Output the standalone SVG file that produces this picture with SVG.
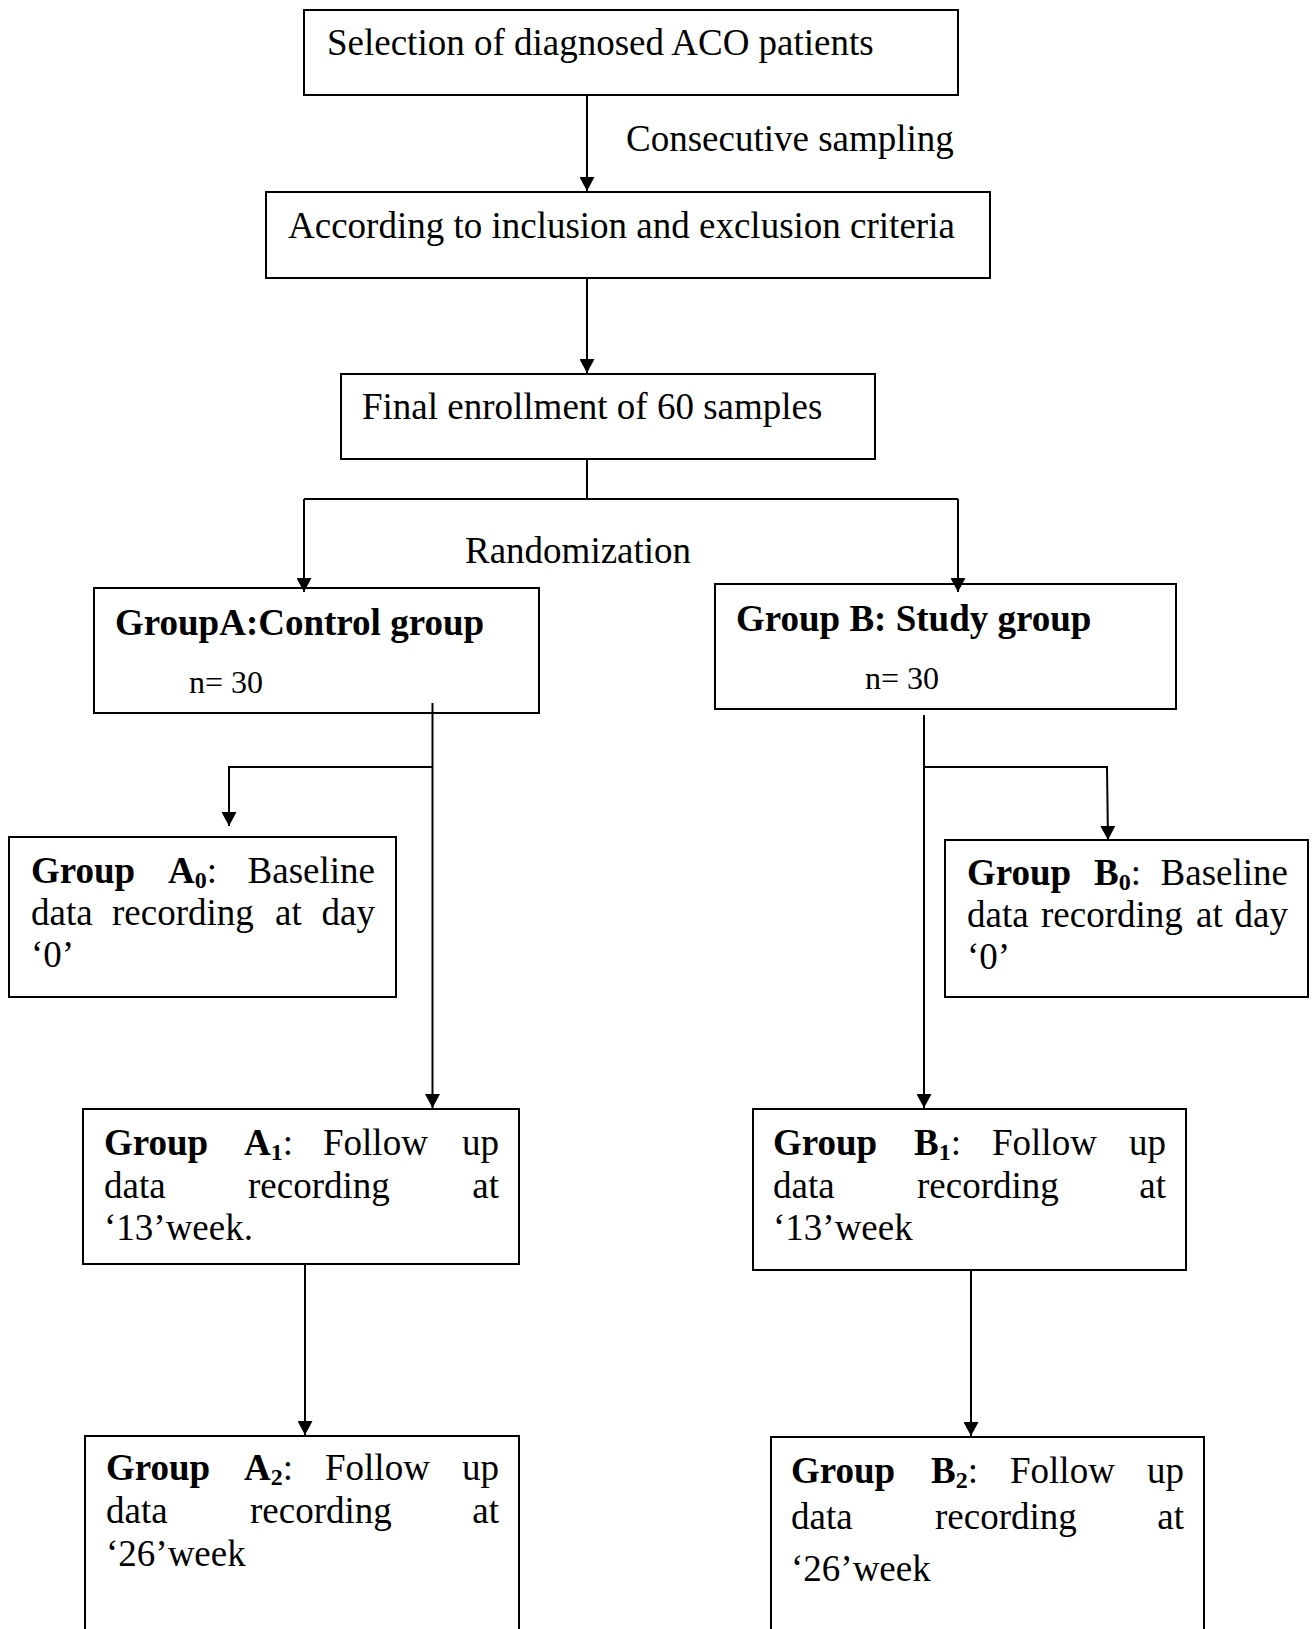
<svg xmlns="http://www.w3.org/2000/svg" width="1314" height="1629" viewBox="0 0 1314 1629">
<style>
  .box { fill: #fff; stroke: #000; stroke-width: 2; }
  .t { font-family: "Liberation Serif", "Times New Roman", serif; font-size: 37px; fill: #000; }
  .b { font-weight: bold; }
  .sub { font-size: 24px; font-weight: bold; }
  .n { font-size: 32px; }
  .con path { fill: none; stroke: #000; stroke-width: 2; }
</style>
<defs>
  <marker id="arr" markerUnits="userSpaceOnUse" markerWidth="15" markerHeight="15" refX="14" refY="7.5" orient="auto">
    <path d="M0,0 L14,7.5 L0,15 z" fill="#000"/>
  </marker>
</defs>
<rect width="1314" height="1629" fill="#fff"/>

<g id="n-select">
  <rect class="box" x="304" y="10" width="654" height="85"/>
  <text class="t" x="327" y="55">Selection of diagnosed ACO patients</text>
</g>
<g id="n-criteria">
  <rect class="box" x="266" y="192" width="724" height="86"/>
  <text class="t" x="288" y="238">According to inclusion and exclusion criteria</text>
</g>
<g id="n-final">
  <rect class="box" x="341" y="374" width="534" height="85"/>
  <text class="t" x="362" y="419">Final enrollment of 60 samples</text>
</g>
<g id="n-groupA">
  <rect class="box" x="94" y="588" width="445" height="125"/>
  <text class="t b" x="115" y="635">GroupA:Control group</text>
  <text class="t n" x="189" y="693">n= 30</text>
</g>
<g id="n-groupB">
  <rect class="box" x="715" y="584" width="461" height="125"/>
  <text class="t b" x="736" y="631">Group B: Study group</text>
  <text class="t n" x="865" y="689">n= 30</text>
</g>
<g id="n-A0">
  <rect class="box" x="9" y="837" width="387" height="160"/>
  <text class="t" y="883"><tspan x="31" class="b">Group</tspan><tspan x="168" class="b">A</tspan><tspan class="sub" dy="5">0</tspan><tspan dy="-5">:</tspan><tspan x="375" text-anchor="end">Baseline</tspan></text>
  <text class="t" y="925"><tspan x="31">data</tspan><tspan x="112">recording</tspan><tspan x="275">at</tspan><tspan x="375" text-anchor="end">day</tspan></text>
  <text class="t" x="31" y="967">‘0’</text>
</g>
<g id="n-B0">
  <rect class="box" x="945" y="840" width="363" height="157"/>
  <text class="t" y="885"><tspan x="967" class="b">Group</tspan><tspan x="1094" class="b">B</tspan><tspan class="sub" dy="5">0</tspan><tspan dy="-5">:</tspan><tspan x="1288" text-anchor="end">Baseline</tspan></text>
  <text class="t" y="927"><tspan x="967">data</tspan><tspan x="1041">recording</tspan><tspan x="1196">at</tspan><tspan x="1288" text-anchor="end">day</tspan></text>
  <text class="t" x="967" y="969">‘0’</text>
</g>
<g id="n-A1">
  <rect class="box" x="83" y="1109" width="436" height="155"/>
  <text class="t" y="1155"><tspan x="104" class="b">Group</tspan><tspan x="244" class="b">A</tspan><tspan class="sub" dy="5">1</tspan><tspan dy="-5">:</tspan><tspan x="323">Follow</tspan><tspan x="499" text-anchor="end">up</tspan></text>
  <text class="t" y="1198"><tspan x="104">data</tspan><tspan x="248">recording</tspan><tspan x="499" text-anchor="end">at</tspan></text>
  <text class="t" x="104" y="1240">‘13’week.</text>
</g>
<g id="n-B1">
  <rect class="box" x="753" y="1109" width="433" height="161"/>
  <text class="t" y="1155"><tspan x="773" class="b">Group</tspan><tspan x="914" class="b">B</tspan><tspan class="sub" dy="5">1</tspan><tspan dy="-5">:</tspan><tspan x="992">Follow</tspan><tspan x="1166" text-anchor="end">up</tspan></text>
  <text class="t" y="1198"><tspan x="773">data</tspan><tspan x="917">recording</tspan><tspan x="1166" text-anchor="end">at</tspan></text>
  <text class="t" x="773" y="1240">‘13’week</text>
</g>
<g id="n-A2">
  <rect class="box" x="85" y="1436" width="434" height="220"/>
  <text class="t" y="1480"><tspan x="106" class="b">Group</tspan><tspan x="244" class="b">A</tspan><tspan class="sub" dy="5">2</tspan><tspan dy="-5">:</tspan><tspan x="325">Follow</tspan><tspan x="499" text-anchor="end">up</tspan></text>
  <text class="t" y="1523"><tspan x="106">data</tspan><tspan x="250">recording</tspan><tspan x="499" text-anchor="end">at</tspan></text>
  <text class="t" x="106" y="1566">‘26’week</text>
</g>
<g id="n-B2">
  <rect class="box" x="771" y="1437" width="433" height="220"/>
  <text class="t" y="1483"><tspan x="791" class="b">Group</tspan><tspan x="931" class="b">B</tspan><tspan class="sub" dy="5">2</tspan><tspan dy="-5">:</tspan><tspan x="1010">Follow</tspan><tspan x="1184" text-anchor="end">up</tspan></text>
  <text class="t" y="1529"><tspan x="791">data</tspan><tspan x="935">recording</tspan><tspan x="1184" text-anchor="end">at</tspan></text>
  <text class="t" x="791" y="1581">‘26’week</text>
</g>

<g id="connectors" class="con">
  <path d="M587,95 V191" marker-end="url(#arr)"/>
  <path d="M587,278 V373" marker-end="url(#arr)"/>
  <path d="M587,459 V499 M304,499 H958"/>
  <path d="M304,499 V592" marker-end="url(#arr)"/>
  <path d="M958,499 V592" marker-end="url(#arr)"/>
  <path d="M432.5,703 V1108" marker-end="url(#arr)"/>
  <path d="M432.5,767 H229 V826" marker-end="url(#arr)"/>
  <path d="M924,715 V1108" marker-end="url(#arr)"/>
  <path d="M924,767 H1107 L1108,840" marker-end="url(#arr)"/>
  <path d="M305,1264 V1435" marker-end="url(#arr)"/>
  <path d="M971,1270 V1436" marker-end="url(#arr)"/>
  <text class="t" x="626" y="151" stroke="none">Consecutive sampling</text>
  <text class="t" x="465" y="563" stroke="none">Randomization</text>
</g>
</svg>
